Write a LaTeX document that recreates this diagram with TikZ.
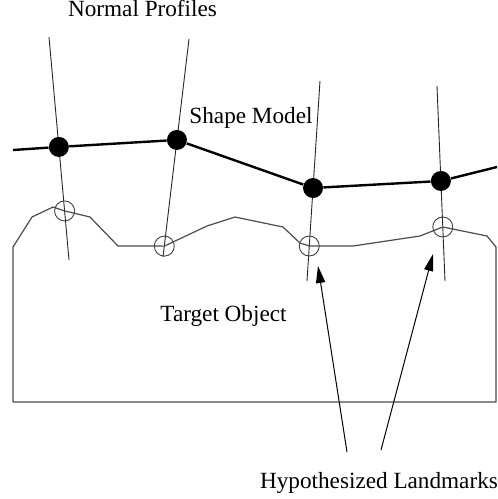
\documentclass[tikz,border=0pt]{standalone}
\usepackage{fontspec}
\setmainfont{Liberation Serif}
\usetikzlibrary{arrows.meta,calc}
\tikzset{
  profile/.style={draw=black!85, line width=0.45pt},
  model/.style={draw=black, line width=1.2pt},
  outline/.style={draw=black!70, line width=0.6pt, line join=round},
  landmark/.style={circle, fill=black, inner sep=0pt, minimum size=10pt},
  hypo/.style={circle, draw=black!75, line width=0.45pt, inner sep=0pt, minimum size=10pt},
  pointer/.style={draw=black, line width=0.5pt, -{Triangle[length=8.5pt,width=4.6pt]}},
  caption/.style={font=\fontsize{11.6}{14}\selectfont, anchor=base, inner sep=0pt}
}
\begin{document}
\begin{tikzpicture}[x=0.5pt, y=-0.5pt]
    \useasboundingbox (0,0) rectangle (498,499);

    % normal profiles
    \coordinate (p1t) at (49,37);   \coordinate (p1b) at (69,260);
    \coordinate (p2t) at (189,39);  \coordinate (p2b) at (163,257);
    \coordinate (p3t) at (320,81);  \coordinate (p3b) at (307,281);
    \coordinate (p4t) at (437,86);  \coordinate (p4b) at (445,281);

    \draw[profile] (p1t) -- (p1b);
    \draw[profile] (p2t) -- (p2b);
    \draw[profile] (p3t) -- (p3b);
    \draw[profile] (p4t) -- (p4b);

    % hypothesized landmarks on the profiles
    \node[hypo] (h1) at ($(p1t)!0.780!(p1b)$) {};
    \node[hypo] (h2) at ($(p2t)!0.950!(p2b)$) {};
    \node[hypo] (h3) at ($(p3t)!0.825!(p3b)$) {};
    \node[hypo] (h4) at ($(p4t)!0.723!(p4b)$) {};

    % target object
    \draw[outline] (13,402) -- (13,247) -- (32,217) -- (53,207) -- (h1.center)
      -- (90,217) -- (118,246) -- (h2.center) -- (207,226) -- (235,217)
      -- (283,227) -- (300,243) -- (h3.center) -- (353,246) -- (420,236)
      -- (h4.center) -- (487,236) -- (496,247) -- (496,402) -- cycle;

    % shape model
    \coordinate (m0) at (13,150);
    \coordinate (m5) at (497,167);
    \node[landmark] (m1) at ($(p1t)!0.493!(p1b)$) {};
    \node[landmark] (m2) at ($(p2t)!0.463!(p2b)$) {};
    \node[landmark] (m3) at ($(p3t)!0.535!(p3b)$) {};
    \node[landmark] (m4) at ($(p4t)!0.487!(p4b)$) {};
    \draw[model] (m0) -- (m1) -- (m2) -- (m3) -- (m4) -- (m5);

    % labels
    \node[caption] (np) at (142.5,16) {Normal Profiles};
    \node[caption] (sm) at (251,123) {Shape Model};
    \node[caption] (to) at (223.5,321) {Target Object};
    \node[caption] (hl) at (379,488) {Hypothesized Landmarks};

    \coordinate (a1) at (347,452);
    \coordinate (a2) at (381,450);
    \coordinate (a1e) at (318,266);
    \coordinate (a2e) at (433,254);
    \draw[pointer] (a1) -- (a1e);
    \draw[pointer] (a2) -- (a2e);

\end{tikzpicture}
\end{document}
